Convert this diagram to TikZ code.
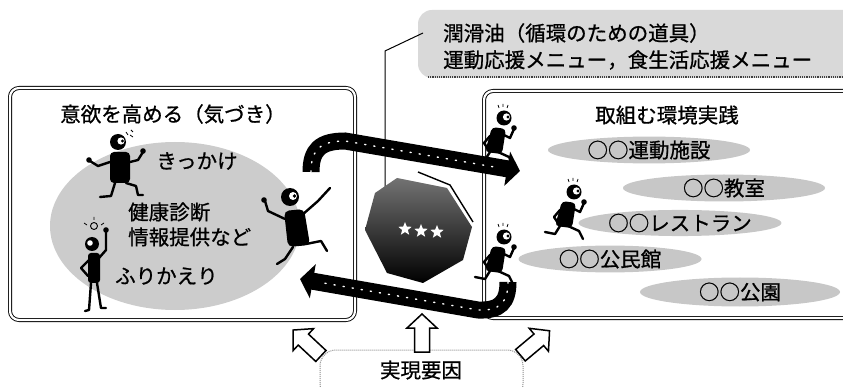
\documentclass[tikz,border=0pt]{standalone}
\usepackage{fontspec}
\newfontfamily\jpfont[FakeBold=0.8]{Noto Sans CJK JP}
\usetikzlibrary{arrows.meta, shapes.geometric}

\tikzset{
  jp/.style={font=\jpfont\fontsize{20.5}{24}\selectfont, inner sep=0pt},
  frame/.style={draw, double, double distance=2.2pt, line width=0.9pt, rounded corners=9pt},
  venue/.style={jp, ellipse, fill=black!22, minimum height=24pt},
  flow/.style={line width=17pt, -{Triangle[length=13pt, width=34pt]}},
  speck/.style={white, line width=1.4pt, dash pattern=on 1.2pt off 8pt, line cap=round},
  limb/.style={line width=2.4pt, line cap=round, line join=round},
  twinkle/.style={star, star points=5, star point ratio=2.3, fill=white, minimum size=14pt, inner sep=0pt},
  hollow/.pic={
    \draw[line width=1.5pt, fill=white] (-19,-7.5) -- (5,-7.5) -- (5,-15) -- (19,0)
      -- (5,15) -- (5,7.5) -- (-19,7.5) -- cycle;
  },
  runner/.pic={
    \fill[rounded corners=4pt] (-4,-15) -- (10,-13) -- (6,12) -- (-11,10) -- cycle;
    \fill (8,-24) circle (7.5);
    \fill[white] (10.5,-25) circle (3.6);
    \fill (12,-25) circle (1.7);
    \draw[limb] (6,-8) -- (14,-4) -- (18,-13);
    \fill (18,-14) circle (2.8);
    \draw[limb] (-6,-6) -- (-12,1) -- (-8,7);
    \draw[limb] (2,10) -- (13,15) -- (17,23);
    \draw[limb] (-6,10) -- (-11,18) -- (-21,16);
    \draw[line width=0.8pt] (2,-37) -- (3,-34) (7,-38) -- (7,-35) (12,-37) -- (11,-34);
  }
}

\begin{document}
\begin{tikzpicture}[x=1pt, y=-1pt]
  \useasboundingbox (0,0) rectangle (843,387);

  % banner with the tools
  \fill[black!15, rounded corners=14pt] (418,10) rectangle (870,78);
  \draw[black!75, line width=1.2pt, densely dotted] (428,77) -- (843,77);
  \node[jp, anchor=west] (lube) at (443,33) {潤滑油（循環のための道具）};
  \node[jp, anchor=west] (menu) at (443,60) {運動応援メニュー，食生活応援メニュー};

  % frames
  \draw[frame] (10,88) rectangle (355,320);
  \draw[frame] (484,91) rectangle (870,318);

  % left frame: motivation
  \fill[black!20] (175,226) ellipse (125 and 84);
  \node[jp] (motive) at (173,114) {意欲を高める（気づき）};
  \node[jp] (trigger) at (197,161) {きっかけ};
  \node[jp, anchor=west] (checkup) at (128,212) {健康診断};
  \node[jp, anchor=west] (info) at (128,237) {情報提供など};
  \node[jp, anchor=west] (review) at (115,276) {ふりかえり};

  % right frame: practice
  \node[jp] (practice) at (667,115) {取組む環境実践};
  \node[venue, minimum width=202pt] (gym) at (649,150) {○○運動施設};
  \node[venue, minimum width=202pt, minimum height=27pt] (class) at (724,188) {○○教室};
  \node[venue, minimum width=194pt] (diner) at (680,223) {○○レストラン};
  \node[venue, minimum width=183pt] (hall) at (610,259) {○○公民館};
  \node[venue, minimum width=200pt, minimum height=29pt] (park) at (740,292) {○○公園};

  % leader from the banner
  \coordinate (oct) at (418,230);
  \coordinate (lead) at (423,33);
  \coordinate (bend) at (385,51);
  \draw[line width=1pt] (lead) -- (bend) -- (bend |- oct);

  % octagon in the middle
  \shade[top color=black!55, middle color=black!90, bottom color=black]
    (397,178) -- (447,188) -- (472,227) -- (463,260) -- (423,283)
    -- (387,273) -- (365,230) -- (375,193) -- cycle;
  \draw[line width=1.4pt] (418,172) -- (450,185) -- (473,222);
  \node[twinkle] (s1) at (405,229) {};
  \node[twinkle] (s2) at (421,231) {};
  \node[twinkle] (s3) at (437,232) {};

  % the cycle
  \coordinate (goS) at (311,172);
  \coordinate (goT) at (520,171);
  \coordinate (backS) at (508,282);
  \coordinate (backT) at (300,279);
  \draw[flow] (goS) .. controls (311,150) and (320,141) .. (345,141) -- (goT);
  \draw[speck] (goS) .. controls (311,150) and (320,141) .. (345,141) -- (500,168);
  \draw[flow] (backS) .. controls (508,302) and (500,311) .. (478,310) -- (backT);
  \draw[speck] (backS) .. controls (508,302) and (500,311) .. (478,310) -- (318,282);

  % shrugging figure
  \begin{scope}[shift={(120,168)}]
    \fill[rounded corners=4pt] (-10,-16) rectangle (10,15);
    \fill (-2,-26) circle (8);
    \fill[white] (1,-27) circle (3.6);
    \fill (2.5,-27) circle (1.7);
    \draw[limb] (-10,-6) -- (-22,-2) -- (-30,-7);
    \fill (-31,-8) circle (2.8);
    \draw[limb] (10,-6) -- (18,-8) -- (23,-16);
    \fill (23,-17) circle (2.8);
    \draw[limb] (-5,15) -- (-9,28) -- (-20,29);
    \draw[limb] (6,15) -- (16,18) -- (18,27) -- (23,27);
    \draw[line width=0.8pt] (6,-36) -- (8,-33) (10,-33) -- (13,-31) (11,-38) -- (13,-36);
  \end{scope}

  % figure with the idea
  \begin{scope}[shift={(94,268)}]
    \fill[rounded corners=3pt] (-6,-15) rectangle (6,15);
    \fill (-2,-24) circle (7);
    \fill[white] (-4,-25) circle (2.8);
    \draw[limb] (5,-10) -- (12,-18) -- (12,-36);
    \fill (12,-38) circle (2.8);
    \draw[limb] (-5,-8) -- (-13,0) -- (-6,8);
    \draw[limb] (-3,15) -- (-5,42) -- (-9,43);
    \draw[limb] (3,15) -- (7,40) -- (12,40);
    \draw[line width=0.9pt] (0,-42) circle (3.5);
    \draw[line width=0.8pt] (-7,-43) -- (-10,-45) (0,-48) -- (0,-51) (7,-43) -- (10,-45);
  \end{scope}

  % pointing figure
  \begin{scope}[shift={(296,229)}]
    \fill[rounded corners=5pt] (-12,-18) -- (8,-20) -- (14,16) -- (-8,18) -- cycle;
    \fill (-6,-32) circle (9);
    \fill[white] (-3,-33) circle (4);
    \fill (-1.5,-33) circle (1.9);
    \draw[limb] (6,-14) -- (22,-28) -- (34,-41);
    \draw[limb] (-11,-10) -- (-28,-18) -- (-31,-28);
    \fill (-32,-29) circle (2.8);
    \draw[limb] (-3,18) -- (-11,30) -- (-19,35);
    \draw[limb] (10,15) -- (25,12) -- (31,22);
  \end{scope}

  % runners
  \pic at (496,142) {runner};
  \pic at (566,216) {runner};
  \pic at (496,261) {runner};

  % factors
  \draw[black!45, densely dotted, line width=1pt, rounded corners=16pt] (320,350) rectangle (523,400);
  \node[jp] (factor) at (421,370) {実現要因};
  \pic[rotate=137] at (307,343) {hollow};
  \pic[rotate=90] at (422,333) {hollow};
  \pic[rotate=40] at (535,343) {hollow};
\end{tikzpicture}
\end{document}
